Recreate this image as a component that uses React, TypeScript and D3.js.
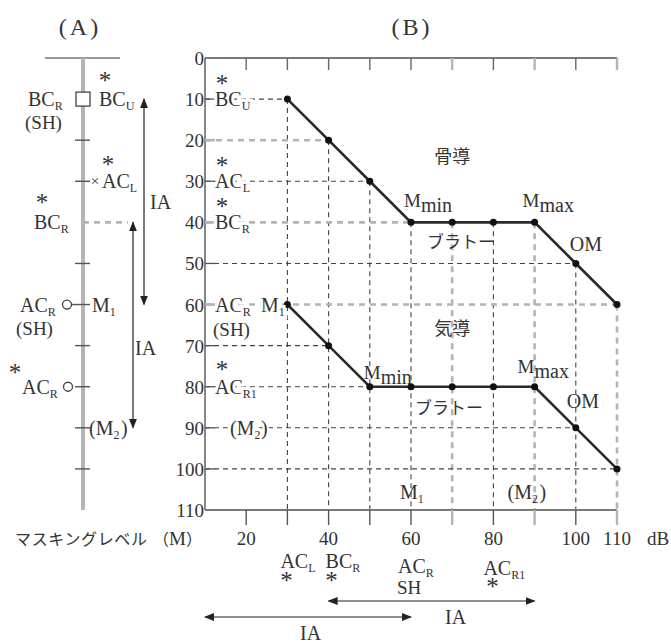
import React from "react";
import * as d3 from "d3";

const W = 671;
const H = 643;

// masking levels (dB) along the horizontal axis of panel B
const levels = [30, 40, 50, 60, 70, 80, 90, 100, 110];
// bone-conduction threshold at each masking level
const boneThresholds = [10, 20, 30, 40, 40, 40, 40, 50, 60];
// air-conduction threshold at each masking level
const airThresholds = [60, 70, 80, 80, 80, 80, 80, 90, 100];

const yTickValues = [0, 10, 20, 30, 40, 50, 60, 70, 80, 90, 100, 110];
const xTickValues = [20, 30, 40, 50, 60, 70, 80, 90, 100, 110];
const xTickLabels = [20, 40, 60, 80, 100, 110];
const paleColumns = [70, 90, 110];

// horizontal guide rows and the masking level where each one stops
const guideRows = [10, 20, 30, 40, 50, 60, 70, 80, 90, 100];
const guideRowEnds = [30, 40, 50, 60, 100, 110, 40, 50, 100, 110];
const paleRows = [20, 40, 60];

// panel A scale marks
const panelATicks = [20, 30, 50, 60, 70, 80, 90, 100];

const SERIF = "'Liberation Serif', 'DejaVu Serif', serif";
const JP = "'Noto Sans CJK JP', 'Noto Sans CJK SC', sans-serif";
const INK = "#2a2a2a";
const TXT = "#333";
const PALE = "#b4b4b4";
const AXIS = "#7a7a7a";

const x = d3.scaleLinear().domain([10, 110]).range([205, 617]);
const y = d3.scaleLinear().domain([0, 110]).range([58, 510]);
const AX = 83; // panel A spine

const darkDash = { stroke: "#444", strokeWidth: 1.1, strokeDasharray: "5,4" };
const paleDash = { stroke: PALE, strokeWidth: 2.6, strokeDasharray: "6,5" };

type LblProps = {
  x: number;
  y: number;
  t: string;
  s?: string;
  size?: number;
  subSize?: number;
  anchor?: "start" | "middle" | "end";
  halo?: boolean;
};

function Lbl({ x, y, t, s, size = 20, subSize = 12, anchor = "start", halo = false }: LblProps) {
  return (
    <text
      x={x}
      y={y}
      fontSize={size}
      fontFamily={SERIF}
      fill={TXT}
      textAnchor={anchor}
      stroke={halo ? "#fff" : "none"}
      strokeWidth={halo ? 6 : 0}
      style={{ paintOrder: "stroke" }}
    >
      {t}
      {s ? (
        <tspan fontSize={subSize} dy={4}>
          {s}
        </tspan>
      ) : null}
    </text>
  );
}

function Star({ cx, cy }: { cx: number; cy: number }) {
  return (
    <text x={cx} y={cy + 11} fontSize={25} fontFamily={SERIF} fill={TXT} textAnchor="middle">
      *
    </text>
  );
}

function MLabel({ x, y, sub }: { x: number; y: number; sub: string }) {
  return (
    <text x={x} y={y} fontSize={19} fontFamily={SERIF} fill={TXT}>
      M
      <tspan fontSize={20} dy={5}>
        {sub}
      </tspan>
    </text>
  );
}

export default function App() {
  const line = d3
    .line<[number, number]>()
    .x((d) => x(d[0]))
    .y((d) => y(d[1]));
  const bone: [number, number][] = levels.map((l, i) => [l, boneThresholds[i]]);
  const air: [number, number][] = levels.map((l, i) => [l, airThresholds[i]]);

  return (
    <svg
      width={W}
      height={H}
      viewBox={`0 0 ${W} ${H}`}
      style={{ display: "block", background: "#fff", position: "absolute", left: 0, top: 0 }}
    >
      <defs>
        <marker id="head" viewBox="0 0 10 10" refX={9} refY={5} markerWidth={10} markerHeight={10} markerUnits="userSpaceOnUse" orient="auto-start-reverse">
          <path d="M0,1 L10,5 L0,9 Z" fill="#222" />
        </marker>
      </defs>

      {/* titles */}
      <text x={80} y={35} fontSize={24} fontFamily={SERIF} fill={TXT} textAnchor="middle" letterSpacing={3}>
        (A)
      </text>
      <text x={412} y={35} fontSize={24} fontFamily={SERIF} fill={TXT} textAnchor="middle" letterSpacing={3}>
        (B)
      </text>

      {/* ---------- panel A ---------- */}
      <line x1={45} x2={120} y1={y(0)} y2={y(0)} stroke="#999" strokeWidth={2} />
      <line x1={AX} x2={AX} y1={y(0)} y2={y(110)} stroke={PALE} strokeWidth={4} />
      {panelATicks.map((v) => (
        <line key={v} x1={AX - 8} x2={AX + 7} y1={y(v)} y2={y(v)} stroke="#555" strokeWidth={1.4} />
      ))}
      <line x1={AX} x2={128} y1={y(40)} y2={y(40)} {...paleDash} />
      <rect x={AX - 7} y={y(10) - 7} width={14} height={14} fill="#fff" stroke="#444" strokeWidth={1.3} />
      <text x={AX + 12} y={y(30) + 5} fontSize={15} fontFamily={SERIF} fill={TXT} textAnchor="middle">
        ×
      </text>
      <line x1={AX - 11} x2={AX - 7} y1={y(60)} y2={y(60)} stroke="#555" strokeWidth={1.4} />
      <circle cx={AX - 16} cy={y(60)} r={4.5} fill="#fff" stroke="#444" strokeWidth={1.3} />
      <circle cx={AX - 15} cy={y(80)} r={4.5} fill="#fff" stroke="#444" strokeWidth={1.3} />

      <Lbl x={28} y={y(10) + 7} t="BC" s="R" />
      <text x={25} y={y(10) + 30} fontSize={19} fontFamily={SERIF} fill={TXT}>(SH)</text>
      <Star cx={105} cy={78} />
      <Lbl x={99} y={y(10) + 7} t="BC" s="U" />
      <Star cx={108} cy={162} />
      <Lbl x={102} y={y(30) + 7} t="AC" s="L" />
      <Star cx={42} cy={200} />
      <Lbl x={34} y={y(40) + 7} t="BC" s="R" />
      <Lbl x={20} y={y(60) + 7} t="AC" s="R" />
      <text x={16} y={y(60) + 30} fontSize={19} fontFamily={SERIF} fill={TXT}>(SH)</text>
      <Lbl x={92} y={y(60) + 7} t="M" s="1" />
      <Star cx={15} cy={370} />
      <Lbl x={22} y={y(80) + 7} t="AC" s="R" />
      <Lbl x={89} y={y(90) + 7} t="(M" s="2" />
      <text x={121} y={y(90) + 7} fontSize={20} fontFamily={SERIF} fill={TXT}>)</text>

      <line x1={144} x2={144} y1={y(10)} y2={y(60)} stroke="#222" strokeWidth={1.2} markerStart="url(#head)" markerEnd="url(#head)" />
      <text x={150} y={209} fontSize={20} fontFamily={SERIF} fill={TXT}>IA</text>
      <line x1={133} x2={133} y1={y(40)} y2={y(90)} stroke="#222" strokeWidth={1.2} markerStart="url(#head)" markerEnd="url(#head)" />
      <text x={135} y={355} fontSize={20} fontFamily={SERIF} fill={TXT}>IA</text>

      {/* ---------- panel B ---------- */}
      {/* vertical guides from the bone curve down to the axis */}
      {levels.map((l, i) => (
        <line
          key={`v${l}`}
          x1={x(l)}
          x2={x(l)}
          y1={y(boneThresholds[i])}
          y2={y(110)}
          {...(paleColumns.includes(l) ? paleDash : darkDash)}
        />
      ))}
      {/* horizontal guides */}
      {guideRows.map((v, i) => (
        <line
          key={`h${v}`}
          x1={x(10)}
          x2={x(guideRowEnds[i])}
          y1={y(v)}
          y2={y(v)}
          {...(paleRows.includes(v) ? paleDash : darkDash)}
        />
      ))}

      {/* axes frame */}
      <line x1={x(10)} x2={x(110)} y1={y(0)} y2={y(0)} stroke={AXIS} strokeWidth={1.8} />
      <line x1={x(10)} x2={x(10)} y1={y(0)} y2={y(110)} stroke={AXIS} strokeWidth={1.8} />
      <line x1={x(10)} x2={x(110)} y1={y(110)} y2={y(110)} stroke={AXIS} strokeWidth={1.8} />
      {xTickValues.map((v) => (
        <g key={`xt${v}`}>
          <line x1={x(v)} x2={x(v)} y1={y(0)} y2={y(0) + 12} stroke={paleColumns.includes(v) ? PALE : "#666"} strokeWidth={paleColumns.includes(v) ? 2.4 : 1.4} />
          <line x1={x(v)} x2={x(v)} y1={y(110)} y2={y(110) + 15} stroke={paleColumns.includes(v) ? PALE : "#555"} strokeWidth={paleColumns.includes(v) ? 2.4 : 1.4} />
        </g>
      ))}
      {yTickValues.slice(1, -1).map((v) => (
        <line key={`yt${v}`} x1={x(10)} x2={x(10) + 10} y1={y(v)} y2={y(v)} stroke={paleRows.includes(v) ? PALE : "#555"} strokeWidth={paleRows.includes(v) ? 2.6 : 1.3} />
      ))}
      {yTickValues.map((v) => (
        <text key={`yl${v}`} x={x(10) - 1} y={y(v) + 7} fontSize={19} fontFamily={SERIF} fill={TXT} textAnchor="end">
          {v}
        </text>
      ))}

      {/* masking curves */}
      <path d={line(bone) ?? ""} fill="none" stroke={INK} strokeWidth={2.6} />
      <path d={line(air) ?? ""} fill="none" stroke={INK} strokeWidth={2.6} />
      {bone.map((d) => (
        <circle key={`b${d[0]}`} cx={x(d[0])} cy={y(d[1])} r={3.5} fill="#111" />
      ))}
      {air.map((d) => (
        <circle key={`a${d[0]}`} cx={x(d[0])} cy={y(d[1])} r={3.5} fill="#111" />
      ))}

      {/* labels beside the threshold axis */}
      <Star cx={x(10) + 17} cy={81} />
      <Lbl x={x(10) + 10} y={y(10) + 7} t="BC" s="U" halo />
      <Star cx={x(10) + 17} cy={163} />
      <Lbl x={x(10) + 10} y={y(30) + 7} t="AC" s="L" halo />
      <Star cx={x(10) + 17} cy={204} />
      <Lbl x={x(10) + 10} y={y(40) + 7} t="BC" s="R" halo />
      <Lbl x={x(10) + 10} y={y(60) + 7} t="AC" s="R" halo />
      <Lbl x={x(10) + 56} y={y(60) + 7} t="M" s="1" halo />
      <text x={x(10) + 8} y={y(60) + 31} fontSize={19} fontFamily={SERIF} fill={TXT}>(SH)</text>
      <Star cx={x(10) + 17} cy={367} />
      <Lbl x={x(10) + 10} y={y(80) + 7} t="AC" s="R1" halo />
      <Lbl x={x(10) + 25} y={y(90) + 7} t="(M" s="2" halo />
      <text x={x(10) + 56} y={y(90) + 7} fontSize={20} fontFamily={SERIF} fill={TXT} stroke="#fff" strokeWidth={4} style={{ paintOrder: "stroke" }}>)</text>

      {/* curve annotations */}
      <text x={x(70)} y={163} fontSize={18} fontFamily={JP} fill={TXT} textAnchor="middle">骨導</text>
      <text x={x(70)} y={335} fontSize={18} fontFamily={JP} fill={TXT} textAnchor="middle">気導</text>
      <MLabel x={x(60) - 7} y={y(40) - 15} sub="min" />
      <MLabel x={x(90) - 12} y={y(40) - 15} sub="max" />
      <text x={x(100) - 6} y={y(50) - 12} fontSize={20} fontFamily={SERIF} fill={TXT}>OM</text>
      <text x={x(60) + 16} y={y(40) + 26} fontSize={17} fontFamily={JP} fill={TXT}>ブラトー</text>
      <MLabel x={x(50) - 6} y={y(80) - 8} sub="min" />
      <MLabel x={x(90) - 17} y={y(80) - 14} sub="max" />
      <text x={x(100) - 9} y={y(90) - 20} fontSize={20} fontFamily={SERIF} fill={TXT}>OM</text>
      <text x={x(60) + 4} y={y(80) + 27} fontSize={17} fontFamily={JP} fill={TXT}>ブラトー</text>
      <Lbl x={x(60) - 11} y={y(100) + 30} t="M" s="1" />
      <Lbl x={x(90) - 27} y={y(100) + 30} t="(M" s="2" />
      <text x={x(90) + 5} y={y(100) + 30} fontSize={20} fontFamily={SERIF} fill={TXT}>)</text>

      {/* bottom axis labels */}
      <text x={15} y={545} fontSize={16} fontFamily={JP} fill={TXT} textLength={132}>マスキングレベル</text>
      <text x={153} y={545} fontSize={16} fontFamily={JP} fill={TXT}>
        （<tspan fontFamily={SERIF} fontSize={19}>M</tspan>）
      </text>
      {xTickLabels.map((v) => (
        <text key={`xl${v}`} x={x(v)} y={545} fontSize={19} fontFamily={SERIF} fill={TXT} textAnchor="middle">
          {v}
        </text>
      ))}
      <text x={647} y={545} fontSize={19} fontFamily={SERIF} fill={TXT}>dB</text>

      <Lbl x={x(30) - 7} y={568} t="AC" s="L" />
      <Star cx={x(30) - 1} cy={578} />
      <Lbl x={x(40) - 3} y={568} t="BC" s="R" />
      <Star cx={x(40) + 3} cy={578} />
      <Lbl x={x(60) - 13} y={573} t="AC" s="R" />
      <text x={x(60) - 14} y={594} fontSize={19} fontFamily={SERIF} fill={TXT}>SH</text>
      <Lbl x={x(80) - 10} y={575} t="AC" s="R1" />
      <Star cx={x(80) - 1} cy={584} />

      <line x1={x(40)} x2={x(90)} y1={601} y2={601} stroke="#222" strokeWidth={1.2} markerStart="url(#head)" markerEnd="url(#head)" />
      <text x={445} y={624} fontSize={20} fontFamily={SERIF} fill={TXT}>IA</text>
      <line x1={x(10)} x2={x(60)} y1={617} y2={617} stroke="#222" strokeWidth={1.2} markerStart="url(#head)" markerEnd="url(#head)" />
      <text x={300} y={640} fontSize={20} fontFamily={SERIF} fill={TXT}>IA</text>
    </svg>
  );
}
